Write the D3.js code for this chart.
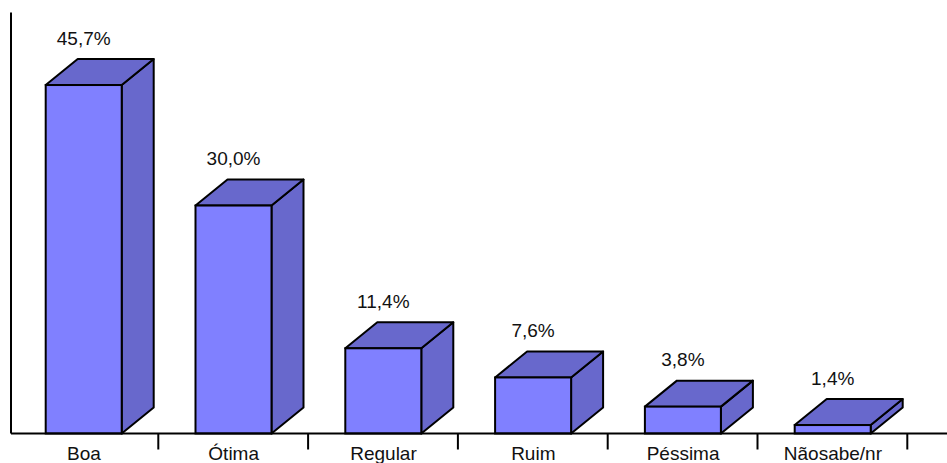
<!DOCTYPE html>
<html>
<head>
<meta charset="utf-8">
<script src="https://cdn.jsdelivr.net/npm/d3@7"></script>
<style>
  html, body { margin: 0; padding: 0; background: #fff; }
  text { font-family: "Liberation Sans", Arial, sans-serif; font-size: 19px; fill: #111; }
</style>
</head>
<body>
<div id="chart"></div>
<script>
var categories = ["Boa", "Ótima", "Regular", "Ruim", "Péssima", "Nãosabe/nr"];
var values = [45.7, 30.0, 11.4, 7.6, 3.8, 1.4];
var labels = ["45,7%", "30,0%", "11,4%", "7,6%", "3,8%", "1,4%"];

var svg_width = 947,
    svg_height = 463,
    base_y = 433.5,
    top_y = 12.5,
    axis_x = 11,
    band_start = 8.5,
    band_step = 149.8,
    bar_width = 76,
    depth_x = 32,
    depth_y = 26;

var svg = d3.select("#chart").append("svg")
    .attr("width", svg_width)
    .attr("height", svg_height)
    .style("display", "block");

var x = d3.scaleBand()
    .domain(categories)
    .range([band_start, band_start + band_step * categories.length])
    .paddingInner(0)
    .paddingOuter(0);

// baseline sits a little above zero in the original
var y = d3.scaleLinear()
    .domain([0.3, 55.15])
    .range([base_y, top_y]);

var bars = svg.selectAll(".bar")
    .data(categories)
    .enter().append("g")
    .attr("class", "bar");

var Left = function (d) {
    return x(d) + (x.bandwidth() - bar_width) / 2 + 0.3;
};

var Path = function (pts) {
    return "M" + pts.map(function (p) { return p[0] + "," + p[1]; }).join("L") + "Z";
};

// side face
bars.append("path")
    .attr("d", function (d, i) {
        var r = Left(d) + bar_width, t = y(values[i]);
        return Path([[r, t], [r + depth_x, t - depth_y], [r + depth_x, base_y - depth_y], [r, base_y]]);
    })
    .attr("fill", "#6868cc")
    .attr("stroke", "#000")
    .attr("stroke-width", 2)
    .attr("stroke-linejoin", "round");

// top face
bars.append("path")
    .attr("d", function (d, i) {
        var l = Left(d), t = y(values[i]);
        return Path([[l, t], [l + depth_x, t - depth_y], [l + bar_width + depth_x, t - depth_y], [l + bar_width, t]]);
    })
    .attr("fill", "#6868cc")
    .attr("stroke", "#000")
    .attr("stroke-width", 2)
    .attr("stroke-linejoin", "round");

// front face
bars.append("rect")
    .attr("x", function (d) { return Left(d); })
    .attr("y", function (d, i) { return y(values[i]); })
    .attr("width", bar_width)
    .attr("height", function (d, i) { return base_y - y(values[i]); })
    .attr("fill", "#8080ff")
    .attr("stroke", "#000")
    .attr("stroke-width", 2);

bars.append("text")
    .attr("x", function (d) { return Left(d) + bar_width / 2; })
    .attr("y", function (d, i) { return y(values[i]) - depth_y - 14.5; })
    .attr("text-anchor", "middle")
    .text(function (d, i) { return labels[i]; });

// axes
svg.append("line")
    .attr("x1", axis_x).attr("x2", axis_x)
    .attr("y1", top_y).attr("y2", base_y)
    .attr("stroke", "#000").attr("stroke-width", 2);

svg.append("line")
    .attr("x1", axis_x).attr("x2", svg_width)
    .attr("y1", base_y).attr("y2", base_y)
    .attr("stroke", "#000").attr("stroke-width", 2);

svg.selectAll(".tick-mark")
    .data(categories)
    .enter().append("line")
    .attr("class", "tick-mark")
    .attr("x1", function (d) { return x(d) + x.bandwidth(); })
    .attr("x2", function (d) { return x(d) + x.bandwidth(); })
    .attr("y1", base_y)
    .attr("y2", base_y + 16)
    .attr("stroke", "#000")
    .attr("stroke-width", 2);

svg.selectAll(".cat")
    .data(categories)
    .enter().append("text")
    .attr("class", "cat")
    .attr("x", function (d) { return x(d) + x.bandwidth() / 2 + 0.5; })
    .attr("y", 459.5)
    .attr("text-anchor", "middle")
    .text(function (d) { return d; });
</script>
</body>
</html>
